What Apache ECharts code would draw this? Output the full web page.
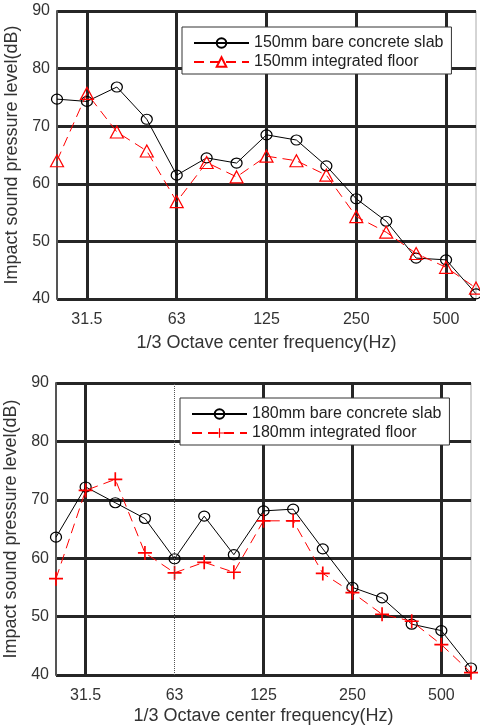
<!DOCTYPE html>
<html>
<head>
<meta charset="utf-8">
<script src="https://cdn.jsdelivr.net/npm/echarts@6/dist/echarts.min.js"></script>
<style>
  html, body { margin: 0; padding: 0; background: #fff; }
  #main { width: 480px; height: 728px; }
</style>
</head>
<body>
<div id="main"></div>
<script>
// 1/3 octave bands (Hz)
const freqs = ['25', '31.5', '40', '50', '63', '80', '100', '125', '160', '200', '250', '315', '400', '500', '630'];
// labelled bands on the x axis
const xTickLabels = ['31.5', '63', '125', '250', '500'];

// impact sound pressure level (dB)
const bare150 = [74.7, 74.3, 76.8, 71.2, 61.5, 64.5, 63.6, 68.5, 67.6, 63.1, 57.4, 53.5, 47.1, 46.8, 40.9];
const floor150 = [64.0, 75.7, 69.0, 65.7, 56.9, 63.7, 61.2, 64.8, 64.0, 61.5, 54.3, 51.6, 47.9, 45.5, 41.9];
const bare180 = [63.6, 72.2, 69.5, 66.8, 59.9, 67.2, 60.6, 68.1, 68.4, 61.6, 55.0, 53.2, 48.7, 47.6, 41.2];
const floor180 = [56.5, 71.6, 73.5, 60.9, 57.5, 59.3, 57.6, 66.4, 66.4, 57.4, 54.1, 50.4, 49.2, 45.2, 40.4];

const font = 'Liberation Sans, Arial, sans-serif';
const txt = '#333';
const gridCol = '#262626';
const plusPath = 'path://M4.4,0 L5.6,0 L5.6,4.4 L10,4.4 L10,5.6 L5.6,5.6 L5.6,10 L4.4,10 L4.4,5.6 L0,5.6 L0,4.4 L4.4,4.4 Z';

let chartDom = document.getElementById('main');
let myChart = echarts.init(chartDom);

function xAxisFor(gi, skip63, gap) {
  return {
    type: 'category',
    gridIndex: gi,
    data: freqs,
    boundaryGap: false,
    name: '1/3 Octave center frequency(Hz)',
    nameLocation: 'middle',
    nameGap: gap,
    nameTextStyle: { fontSize: 18, color: txt, fontFamily: font },
    axisLine: { show: false },
    axisTick: { show: false },
    axisLabel: {
      interval: (i, v) => xTickLabels.includes(v),
      fontSize: 16, color: txt, fontFamily: font, margin: 13
    },
    splitLine: {
      show: true,
      interval: (i, v) => xTickLabels.includes(v) && !(skip63 && v === '63'),
      lineStyle: { color: gridCol, width: 3 }
    }
  };
}

function yAxisFor(gi) {
  return {
    type: 'value',
    gridIndex: gi,
    min: 40, max: 90, interval: 10,
    name: 'Impact sound pressure level(dB)',
    nameLocation: 'middle',
    nameGap: 31,
    nameTextStyle: { fontSize: 18, color: txt, fontFamily: font },
    axisLine: { show: true, lineStyle: { color: '#555', width: 2 } },
    axisTick: { show: false },
    axisLabel: { fontSize: 16, color: txt, fontFamily: font, margin: 7 },
    splitLine: { show: true, lineStyle: { color: gridCol, width: 3 } }
  };
}

function legendFor(names, left, top) {
  return {
    data: names,
    orient: 'vertical',
    left: left, top: top,
    backgroundColor: '#fff',
    borderColor: '#333',
    borderWidth: 1,
    padding: [8, 8, 4, 11],
    itemGap: 3,
    itemWidth: 55,
    itemHeight: 12,
    textStyle: { fontSize: 16, color: '#222', fontFamily: font, width: 200 }
  };
}

let option = {
  animation: false,
  backgroundColor: '#fff',
  grid: [
    { left: 57, top: 11, right: 4, height: 288, outerBoundsMode: 'none', show: true, borderColor: '#aaa', borderWidth: 1 },
    { left: 56, top: 383, right: 9, height: 292, outerBoundsMode: 'none', show: true, borderColor: '#aaa', borderWidth: 1 }
  ],
  xAxis: [xAxisFor(0, false, 35), xAxisFor(1, true, 32)],
  yAxis: [yAxisFor(0), yAxisFor(1)],
  legend: [
    legendFor(['150mm bare concrete slab', '150mm integrated floor'], 182, 27),
    legendFor(['180mm bare concrete slab', '180mm integrated floor'], 180, 398)
  ],
  series: [
    {
      name: '150mm bare concrete slab',
      type: 'line', xAxisIndex: 0, yAxisIndex: 0,
      data: bare150,
      symbol: 'circle', symbolSize: [11, 10],
      lineStyle: { color: '#000', width: 1 },
      itemStyle: { color: 'rgba(0,0,0,0)', borderColor: '#000', borderWidth: 1.2 },
      z: 3
    },
    {
      name: '150mm integrated floor',
      type: 'line', xAxisIndex: 0, yAxisIndex: 0,
      data: floor150,
      symbol: 'triangle', symbolSize: [13, 12],
      lineStyle: { color: '#f00', width: 1, type: [10, 6] },
      itemStyle: { color: 'rgba(0,0,0,0)', borderColor: '#f00', borderWidth: 1.2 },
      z: 4
    },
    {
      name: '180mm bare concrete slab',
      type: 'line', xAxisIndex: 1, yAxisIndex: 1,
      data: bare180,
      symbol: 'circle', symbolSize: [11, 10],
      lineStyle: { color: '#000', width: 1 },
      itemStyle: { color: 'rgba(0,0,0,0)', borderColor: '#000', borderWidth: 1.2 },
      markLine: {
        silent: true,
        symbol: ['none', 'none'],
        label: { show: false },
        lineStyle: { color: '#555', type: 'dotted', width: 1 },
        data: [{ xAxis: '63' }]
      },
      z: 3
    },
    {
      name: '180mm integrated floor',
      type: 'line', xAxisIndex: 1, yAxisIndex: 1,
      data: floor180,
      symbol: plusPath, symbolSize: 14,
      lineStyle: { color: '#f00', width: 1, type: [10, 6] },
      itemStyle: { color: '#f00' },
      z: 4
    }
  ]
};

myChart.setOption(option);
</script>
</body>
</html>
